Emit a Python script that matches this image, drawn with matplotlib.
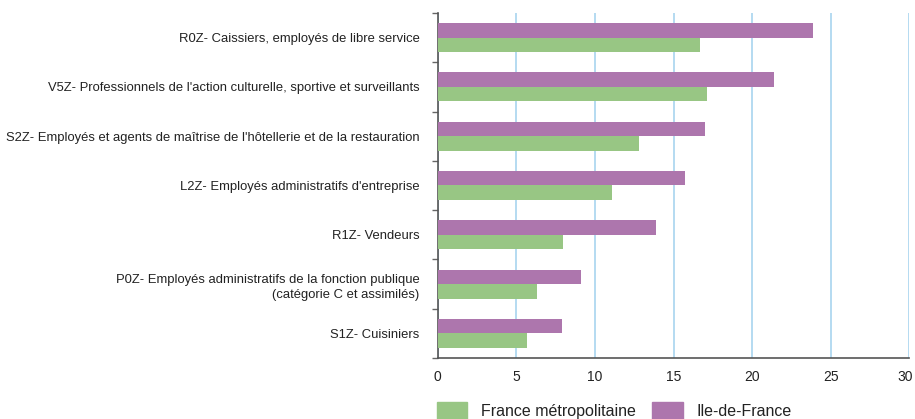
import matplotlib
matplotlib.use('Agg')
import matplotlib.pyplot as plt
import matplotlib.patches as mpatches
import matplotlib.transforms as mtransforms
import numpy as np

plt.rcParams['font.family'] = ['Liberation Sans', 'DejaVu Sans']

categories = [
    "R0Z- Caissiers, employés de libre service",
    "V5Z- Professionnels de l'action culturelle, sportive et surveillants",
    "S2Z- Employés et agents de maîtrise de l'hôtellerie et de la restauration",
    "L2Z- Employés administratifs d'entreprise",
    "R1Z- Vendeurs",
    "P0Z- Employés administratifs de la fonction publique\n(catégorie C et assimilés)",
    "S1Z- Cuisiniers",
]
france = [16.7, 17.1, 12.8, 11.1, 8.0, 6.3, 5.7]
idf = [23.9, 21.4, 17.0, 15.7, 13.9, 9.1, 7.9]

green = '#98c684'
purple = '#ad76ad'

fig = plt.figure(figsize=(9.15, 4.19), dpi=100)
ax = fig.add_axes([0.4784, 0.1456, 0.5154, 0.8234])

y = np.arange(len(categories))
h = 0.295
ax.barh(y - h / 2, idf, height=h, color=purple, zorder=3)
ax.barh(y + h / 2, france, height=h, color=green, zorder=3)

ax.set_xlim(0, 30)
ax.set_ylim(len(categories) - 0.5, -0.5)
ax.set_xticks(range(0, 31, 5))
ax.xaxis.grid(True, color='#a8d4ef', linewidth=1.2, zorder=0)
ax.tick_params(axis='x', length=0, labelsize=10, pad=9, colors='#222222')

# keep the last tick label inside the figure
last = ax.get_xticklabels()[-1]
last.set_transform(last.get_transform() +
                   mtransforms.ScaledTranslation(-4 / 100, 0, fig.dpi_scale_trans))

ax.set_yticks(y)
ax.set_yticklabels(categories, fontsize=9.4, linespacing=1.35, color='#222222')
ax.tick_params(axis='y', which='major', length=0, pad=13)
ax.set_yticks(np.arange(-0.5, len(categories), 1), minor=True)
ax.tick_params(axis='y', which='minor', length=4, color='#666666', width=1)

for s in ['top', 'right']:
    ax.spines[s].set_visible(False)
ax.spines['left'].set_color('#555555')
ax.spines['bottom'].set_color('#555555')
ax.spines['left'].set_linewidth(1.2)
ax.spines['bottom'].set_linewidth(1.2)

handles = [mpatches.Patch(color=green, label='France métropolitaine'),
           mpatches.Patch(color=purple, label='Ile-de-France')]
fig.legend(handles=handles, loc='lower left', bbox_to_anchor=(0.4615, -0.035),
           ncol=2, frameon=False, fontsize=11.5, handlelength=1.9, handleheight=1.3,
           columnspacing=1.05, handletextpad=0.85, labelcolor='#222222')

fig.savefig('out.png', dpi=100)
